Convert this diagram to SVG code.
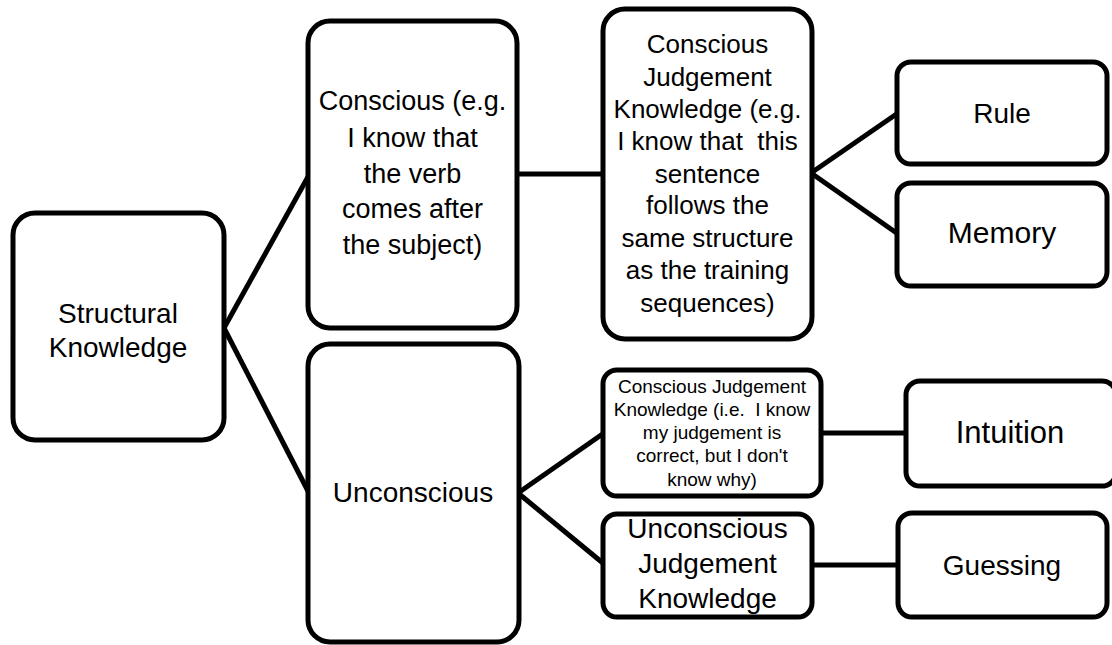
<svg xmlns="http://www.w3.org/2000/svg" width="1112" height="645" viewBox="0 0 1112 645">
<style>
.box{fill:#fff;stroke:#000;stroke-width:5}
.c{stroke:#000;stroke-width:5;fill:none}
text{font-family:"Liberation Sans",Arial,sans-serif;fill:#000;text-anchor:middle}
.l{font-size:26px}
.w{font-size:28px}
.s{font-size:19px}
</style>
<rect width="1112" height="645" fill="#fff"/>
<g id="connectors">
<line class="c" x1="224" y1="328" x2="309" y2="175"/>
<line class="c" x1="224" y1="328" x2="309" y2="493"/>
<line class="c" x1="516" y1="174" x2="604" y2="174"/>
<line class="c" x1="811" y1="173" x2="898" y2="113"/>
<line class="c" x1="811" y1="173" x2="898" y2="234"/>
<line class="c" x1="518" y1="493" x2="604" y2="433"/>
<line class="c" x1="518" y1="493" x2="604" y2="564"/>
<line class="c" x1="820" y1="433" x2="907" y2="433"/>
<line class="c" x1="811" y1="565" x2="899" y2="565"/>
</g>
<g id="structural">
<rect class="box" x="13" y="213" width="211" height="227" rx="22"/>
<text class="w" x="118" y="323">Structural</text>
<text class="w" x="118" y="357">Knowledge</text>
</g>
<g id="conscious">
<rect class="box" x="308" y="21" width="209" height="307" rx="22"/>
<text class="l" x="412.5" y="110" style="font-size:27px">Conscious (e.g.</text>
<text class="l" x="412.5" y="147" style="font-size:27px">I know that</text>
<text class="l" x="412.5" y="183" style="font-size:27px">the verb</text>
<text class="l" x="412.5" y="218" style="font-size:27px">comes after</text>
<text class="l" x="412.5" y="254" style="font-size:27px">the subject)</text>
</g>
<g id="cjk1">
<rect class="box" x="603" y="9" width="209" height="330" rx="22"/>
<text class="l" x="707.5" y="53">Conscious</text>
<text class="l" x="707.5" y="86">Judgement</text>
<text class="l" x="707.5" y="118">Knowledge (e.g.</text>
<text class="l" x="707.5" y="150" xml:space="preserve">I know that  this</text>
<text class="l" x="707.5" y="183">sentence</text>
<text class="l" x="707.5" y="214">follows the</text>
<text class="l" x="707.5" y="247">same structure</text>
<text class="l" x="707.5" y="279">as the training</text>
<text class="l" x="707.5" y="312">sequences)</text>
</g>
<g id="rule">
<rect class="box" x="897" y="62" width="210" height="102" rx="14"/>
<text class="w" x="1002" y="123">Rule</text>
</g>
<g id="memory">
<rect class="box" x="897" y="183" width="210" height="103" rx="14"/>
<text class="w" x="1002" y="243" style="font-size:30px">Memory</text>
</g>
<g id="unconscious">
<rect class="box" x="308" y="344" width="211" height="298" rx="22"/>
<text class="w" x="413" y="502">Unconscious</text>
</g>
<g id="cjk2">
<rect class="box" x="603" y="370" width="218" height="126" rx="14"/>
<text class="s" x="712" y="393">Conscious Judgement</text>
<text class="s" x="712" y="416" xml:space="preserve">Knowledge (i.e.  I know</text>
<text class="s" x="712" y="439">my judgement is</text>
<text class="s" x="712" y="462">correct, but I don't</text>
<text class="s" x="712" y="486">know why)</text>
</g>
<g id="ujk">
<rect class="box" x="603" y="514" width="209" height="103" rx="14"/>
<text class="w" x="707.5" y="538">Unconscious</text>
<text class="w" x="707.5" y="573">Judgement</text>
<text class="w" x="707.5" y="608">Knowledge</text>
</g>
<g id="intuition">
<rect class="box" x="906" y="381" width="210" height="105" rx="14"/>
<text class="w" x="1010" y="443" style="font-size:31px">Intuition</text>
</g>
<g id="guessing">
<rect class="box" x="898" y="513" width="209" height="104" rx="14"/>
<text class="w" x="1002" y="575">Guessing</text>
</g>
</svg>
